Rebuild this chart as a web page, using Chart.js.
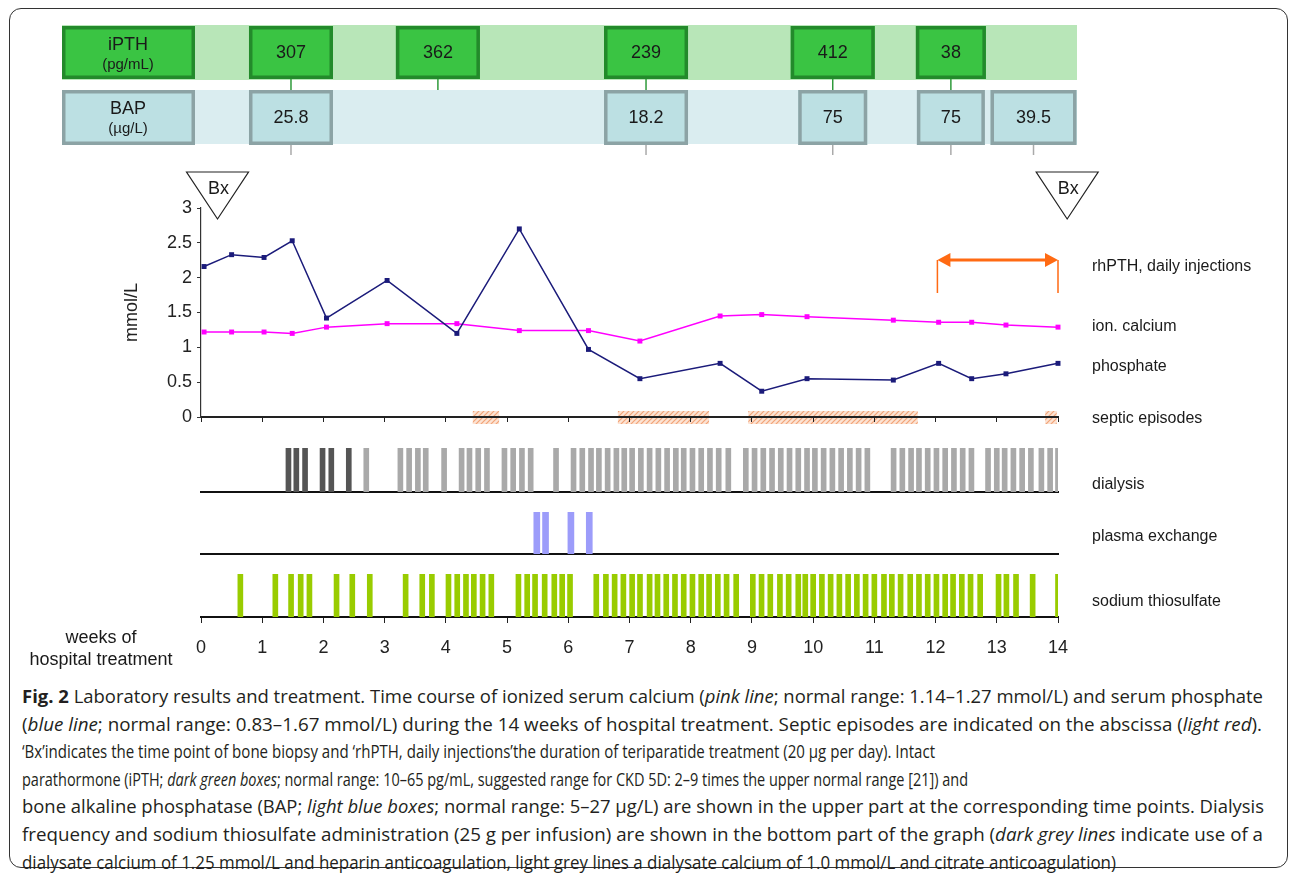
<!DOCTYPE html>
<html>
<head>
<meta charset="utf-8">
<script src="https://cdn.jsdelivr.net/npm/chart.js@4.4.0/dist/chart.umd.min.js"></script>
<style>
  body { margin: 0; background: #fff; }
  #page { position: relative; width: 1295px; height: 873px; overflow: hidden; }
  #frame { position: absolute; left: 9px; top: 8px; width: 1277px; height: 858px;
           border: 1.5px solid #333; border-radius: 12px; }
  canvas { position: absolute; left: 0; }
  #caption { position: absolute; left: 22px; top: 683px; color: #231f20;
             font-family: 'Open Sans', 'Liberation Sans', sans-serif;
             font-size: 18px; line-height: 27.6px; }
  #caption div { white-space: nowrap; height: 27.6px; }
  #caption span { display: inline-block; transform-origin: 0 50%; }
</style>
</head>
<body>
<div id="page">
  <div id="frame"></div>
  <canvas id="main" width="1295" height="445" style="top:0"></canvas>
  <canvas id="dialysis" width="1295" height="60" style="top:440px"></canvas>
  <canvas id="plasma" width="1295" height="62" style="top:500px"></canvas>
  <canvas id="thio" width="1295" height="108" style="top:562px"></canvas>
  <div id="caption">
    <div><span data-w="1241"><b>Fig. 2</b> Laboratory results and treatment. Time course of ionized serum calcium (<i>pink line</i>; normal range: 1.14–1.27 mmol/L) and serum phosphate</span></div>
    <div><span data-w="1240">(<i>blue line</i>; normal range: 0.83–1.67 mmol/L) during the 14 weeks of hospital treatment. Septic episodes are indicated on the abscissa (<i>light red</i>).</span></div>
    <div><span data-w="913">‘Bx’indicates the time point of bone biopsy and ‘rhPTH, daily injections’the duration of teriparatide treatment (20 μg per day). Intact</span></div>
    <div><span data-w="946">parathormone (iPTH; <i>dark green boxes</i>; normal range: 10–65 pg/mL, suggested range for CKD 5D: 2–9 times the upper normal range [21]) and</span></div>
    <div><span data-w="1242">bone alkaline phosphatase (BAP; <i>light blue boxes</i>; normal range: 5–27 μg/L) are shown in the upper part at the corresponding time points. Dialysis</span></div>
    <div><span data-w="1241">frequency and sodium thiosulfate administration (25 g per infusion) are shown in the bottom part of the graph (<i>dark grey lines</i> indicate use of a</span></div>
    <div><span data-w="1094">dialysate calcium of 1.25 mmol/L and heparin anticoagulation, light grey lines a dialysate calcium of 1.0 mmol/L and citrate anticoagulation)</span></div>
  </div>
</div>
<script>
// serum values, x in weeks of hospital treatment
const labWeeks = [0.05, 0.50, 1.03, 1.49, 2.05, 3.04, 4.18, 5.20, 6.33, 7.17, 8.48, 9.16, 9.90, 11.31, 12.05, 12.59, 13.15, 14.0];
const phosphate = [2.16, 2.33, 2.29, 2.53, 1.42, 1.96, 1.20, 2.70, 0.97, 0.55, 0.77, 0.37, 0.55, 0.53, 0.77, 0.55, 0.62, 0.77];
const ionCalcium = [1.22, 1.22, 1.22, 1.20, 1.29, 1.34, 1.34, 1.24, 1.24, 1.09, 1.45, 1.47, 1.44, 1.39, 1.36, 1.36, 1.32, 1.29];

// boxes on top (weeks)
const iPTHWeeks = [1.47, 3.87, 7.27, 10.32, 12.25];
const iPTHValues = ['307', '362', '239', '412', '38'];
const bapWeeks = [1.47, 7.27, 10.32, 12.25, 13.6];
const bapValues = ['25.8', '18.2', '75', '75', '39.5'];

const septicEpisodes = [[4.44, 4.87], [6.81, 8.30], [8.94, 11.71], [13.79, 13.98]];
const biopsyWeeks = [0.27, 14.15];
const rhPTHWeeks = [12.03, 14.0];

// treatments, x in days
const dialysisDarkDays = [10.0, 10.9, 11.9, 13.9, 14.9, 16.9];
const dialysisLightDays = [18.9, 22.8, 23.8, 24.8, 25.7, 27.8, 29.8, 30.7, 31.7, 32.7, 34.7, 35.7, 36.7, 37.7,
  40.6, 42.6, 43.6, 44.6, 45.5, 46.5, 47.5, 48.4, 49.3, 50.3, 51.3, 52.3, 53.3, 54.3, 55.2, 56.2, 57.2, 58.2,
  59.2, 60.3, 62.3, 63.3, 64.3, 65.3, 66.3, 67.3, 68.3, 69.3, 70.2, 71.2, 72.2, 73.2, 74.2, 75.2, 76.2,
  79.2, 80.2, 81.2, 82.1, 83.1, 84.1, 85.1, 86.1, 87.1, 88.1, 90.0, 91.0, 91.9, 92.9, 93.9, 94.9, 96.1, 97.1, 98.0];
const plasmaDays = [38.4, 39.4, 42.3, 44.4];
const thiosulfateDays = [4.5, 8.5, 10.3, 11.4, 12.4, 15.5, 17.3, 19.3, 23.4, 25.3, 26.4, 28.3, 29.3, 30.3, 31.2,
  32.2, 33.2, 36.3, 37.3, 38.2, 39.3, 40.4, 41.3, 42.2, 45.2, 46.3, 47.3, 48.3, 49.3, 50.2, 51.3, 52.2, 53.2,
  54.2, 55.2, 56.2, 57.2, 58.1, 59.1, 60.1, 61.2, 63.1, 64.1, 65.1, 66.2, 67.2, 68.3, 69.1, 70.0, 71.0, 72.0,
  73.0, 74.0, 75.0, 76.0, 77.0, 78.1, 79.0, 80.0, 81.1, 82.1, 83.1, 84.1, 85.1, 86.0, 87.0, 88.0, 89.1, 91.2,
  92.1, 93.2, 95.1, 98.0];

const iPTHBoxW = [84, 84, 84, 84, 70];
const bapBoxW = [84, 84, 69, 68, 86];

Chart.defaults.font.family = "'Liberation Sans', Arial, sans-serif";
Chart.defaults.color = '#222';

const toPoints = (xs, ys) => xs.map((x, i) => ({x: x, y: ys[i]}));
const dayBars = days => days.map(d => ({x: d / 7, y: 1}));

function hatch(ctx) {
  const c = document.createElement('canvas');
  c.width = 5; c.height = 5;
  const g = c.getContext('2d');
  g.fillStyle = '#FCE3D3';
  g.fillRect(0, 0, 5, 5);
  g.strokeStyle = '#F2A478';
  g.lineWidth = 1.2;
  g.beginPath();
  g.moveTo(0, 5); g.lineTo(5, 0);
  g.moveTo(-1, 1); g.lineTo(1, -1);
  g.moveTo(4, 6); g.lineTo(6, 4);
  g.stroke();
  return ctx.createPattern(c, 'repeat');
}

function box(ctx, left, top, w, h, fill, stroke) {
  ctx.fillStyle = fill;
  ctx.fillRect(left, top, w, h);
  ctx.strokeStyle = stroke;
  ctx.lineWidth = 3.5;
  ctx.strokeRect(left + 1.75, top + 1.75, w - 3.5, h - 3.5);
}

function text(ctx, str, x, y, size, align) {
  ctx.font = size + "px 'Liberation Sans', Arial, sans-serif";
  ctx.fillStyle = '#1a1a1a';
  ctx.textAlign = align || 'center';
  ctx.textBaseline = 'middle';
  ctx.fillText(str, x, y);
}

const mainDecor = {
  id: 'mainDecor',
  beforeDraw(chart) {
    const {ctx, scales: {x, y}} = chart;
    const y0 = y.getPixelForValue(0);
    ctx.save();
    ctx.fillStyle = hatch(ctx);
    septicEpisodes.forEach(([a, b]) => {
      const xa = x.getPixelForValue(a), xb = x.getPixelForValue(b);
      ctx.fillRect(xa, y0 - 6, xb - xa, 13);
    });
    ctx.restore();
  },
  afterDraw(chart) {
    const {ctx, scales: {x}} = chart;
    ctx.save();
    // lab boxes
    ctx.fillStyle = '#B8E6B8';
    ctx.fillRect(62, 25, 1015, 55);
    ctx.fillStyle = '#DAEDF0';
    ctx.fillRect(62, 90, 1015, 54);
    box(ctx, 62, 26, 133, 53, '#3AC443', '#238A2B');
    text(ctx, 'iPTH', 128, 45, 18);
    text(ctx, '(pg/mL)', 128, 65, 15);
    box(ctx, 62, 90, 133, 55, '#BCE0E3', '#8CA3A5');
    text(ctx, 'BAP', 128, 109, 18);
    text(ctx, '(µg/L)', 128, 129, 15);
    iPTHWeeks.forEach((w, i) => {
      const cx = x.getPixelForValue(w);
      ctx.strokeStyle = '#2E9A3A'; ctx.lineWidth = 1.5;
      ctx.beginPath(); ctx.moveTo(cx, 79); ctx.lineTo(cx, 90); ctx.stroke();
      box(ctx, cx - iPTHBoxW[i] / 2, 26, iPTHBoxW[i], 53, '#3AC443', '#238A2B');
      text(ctx, iPTHValues[i], cx, 53, 18);
    });
    bapWeeks.forEach((w, i) => {
      const cx = x.getPixelForValue(w);
      ctx.strokeStyle = '#AAAAAA'; ctx.lineWidth = 1.5;
      ctx.beginPath(); ctx.moveTo(cx, 145); ctx.lineTo(cx, 155); ctx.stroke();
      box(ctx, cx - bapBoxW[i] / 2, 90, bapBoxW[i], 55, '#BCE0E3', '#8CA3A5');
      text(ctx, bapValues[i], cx, 118, 18);
    });
    // biopsy markers
    biopsyWeeks.forEach(w => {
      const cx = x.getPixelForValue(w);
      ctx.beginPath();
      ctx.moveTo(cx - 31, 172); ctx.lineTo(cx + 31, 172); ctx.lineTo(cx, 219); ctx.closePath();
      ctx.fillStyle = '#fff'; ctx.fill();
      ctx.strokeStyle = '#222'; ctx.lineWidth = 1.2; ctx.stroke();
      text(ctx, 'Bx', cx + 1, 189, 18);
    });
    // rhPTH arrow
    const xa = x.getPixelForValue(rhPTHWeeks[0]), xb = x.getPixelForValue(rhPTHWeeks[1]);
    ctx.strokeStyle = '#FF6A13'; ctx.fillStyle = '#FF6A13';
    ctx.lineWidth = 1.5;
    ctx.beginPath();
    ctx.moveTo(xa, 260); ctx.lineTo(xa, 293);
    ctx.moveTo(xb, 260); ctx.lineTo(xb, 293);
    ctx.stroke();
    ctx.lineWidth = 2.8;
    ctx.beginPath(); ctx.moveTo(xa + 10, 260); ctx.lineTo(xb - 10, 260); ctx.stroke();
    ctx.beginPath();
    ctx.moveTo(xa, 260); ctx.lineTo(xa + 13, 253); ctx.lineTo(xa + 13, 267); ctx.closePath();
    ctx.moveTo(xb, 260); ctx.lineTo(xb - 13, 253); ctx.lineTo(xb - 13, 267); ctx.closePath();
    ctx.fill();
    // series labels
    text(ctx, 'rhPTH, daily injections', 1092, 267, 16, 'left');
    text(ctx, 'ion. calcium', 1092, 327, 16, 'left');
    text(ctx, 'phosphate', 1092, 367, 16, 'left');
    text(ctx, 'septic episodes', 1092, 419, 16, 'left');
    ctx.restore();
  }
};

new Chart(document.getElementById('main'), {
  type: 'line',
  data: {
    datasets: [
      {label: 'phosphate', data: toPoints(labWeeks, phosphate), borderColor: '#1B1B7A', backgroundColor: '#1B1B7A',
       borderWidth: 1.5, pointStyle: 'rect', pointRadius: 3.5, pointBorderWidth: 0, clip: false},
      {label: 'ion. calcium', data: toPoints(labWeeks, ionCalcium), borderColor: '#FF00FF', backgroundColor: '#FF00FF',
       borderWidth: 1.5, pointStyle: 'rect', pointRadius: 3.5, pointBorderWidth: 0, clip: false}
    ]
  },
  options: {
    responsive: false, animation: false, events: [],
    layout: {padding: {left: 121, right: 237, top: 208, bottom: 0}},
    plugins: {legend: {display: false}, tooltip: {enabled: false}},
    scales: {
      x: {type: 'linear', min: 0, max: 14,
          ticks: {display: false, stepSize: 1, maxTicksLimit: 20},
          grid: {drawOnChartArea: false, drawTicks: true, tickLength: 5, color: '#222'},
          border: {color: '#222', width: 2},
          afterFit: s => { s.height = 28; }},
      y: {min: 0, max: 3,
          ticks: {stepSize: 0.5, padding: 5, font: {size: 18}, callback: v => String(v)},
          grid: {drawOnChartArea: false, drawTicks: true, tickLength: 4, color: '#333'},
          border: {color: '#333', width: 1.2},
          title: {display: true, text: 'mmol/L', font: {size: 18}, padding: 0},
          afterFit: s => { s.width = 80; }}
    }
  },
  plugins: [mainDecor]
});

function labels(items) {
  return {
    id: 'labels',
    afterDraw(chart) {
      chart.ctx.save();
      items.forEach(it => text(chart.ctx, it[0], it[1], it[2], it[3] || 16, it[4] || 'left'));
      chart.ctx.restore();
    }
  };
}

function panel(id, datasets, padTop, axisH, withTicks, items) {
  return new Chart(document.getElementById(id), {
    type: 'bar',
    data: {datasets: datasets},
    options: {
      responsive: false, animation: false, events: [],
      layout: {padding: {left: 201, right: 237, top: padTop, bottom: 0}},
      datasets: {bar: {grouped: false, barThickness: 5, borderWidth: 0}},
      plugins: {legend: {display: false}, tooltip: {enabled: false}},
      scales: {
        x: {type: 'linear', min: 0, max: 14, offset: false,
            ticks: {display: withTicks, stepSize: 1, maxTicksLimit: 20, autoSkip: false, maxRotation: 0,
                    padding: 14, font: {size: 18}},
            grid: {offset: false, drawOnChartArea: false, drawTicks: withTicks, tickLength: 6, color: '#222'},
            border: {color: '#111', width: 2},
            afterFit: s => { s.height = axisH; }},
        y: {display: false, min: 0, max: 1}
      }
    },
    plugins: [labels(items)]
  });
}

panel('dialysis', [
  {data: dayBars(dialysisDarkDays), backgroundColor: '#555555'},
  {data: dayBars(dialysisLightDays), backgroundColor: '#A9A9A9'}
], 8, 8, false, [['dialysis', 1092, 45]]);

panel('plasma', [
  {data: dayBars(plasmaDays), backgroundColor: '#9C9CFA', barThickness: 6}
], 12, 8, false, [['plasma exchange', 1092, 37]]);

panel('thio', [
  {data: dayBars(thiosulfateDays), backgroundColor: '#99CC00'}
], 12, 53, true, [['sodium thiosulfate', 1092, 40], ['weeks of', 101, 76, 18, 'center'], ['hospital treatment', 101, 98, 18, 'center']]);

// caption: each line squeezed or stretched to its printed width
document.querySelectorAll('#caption span').forEach(el => {
  const w = el.getBoundingClientRect().width;
  el.style.transform = 'scaleX(' + (+el.dataset.w / w) + ')';
});
</script>
</body>
</html>
